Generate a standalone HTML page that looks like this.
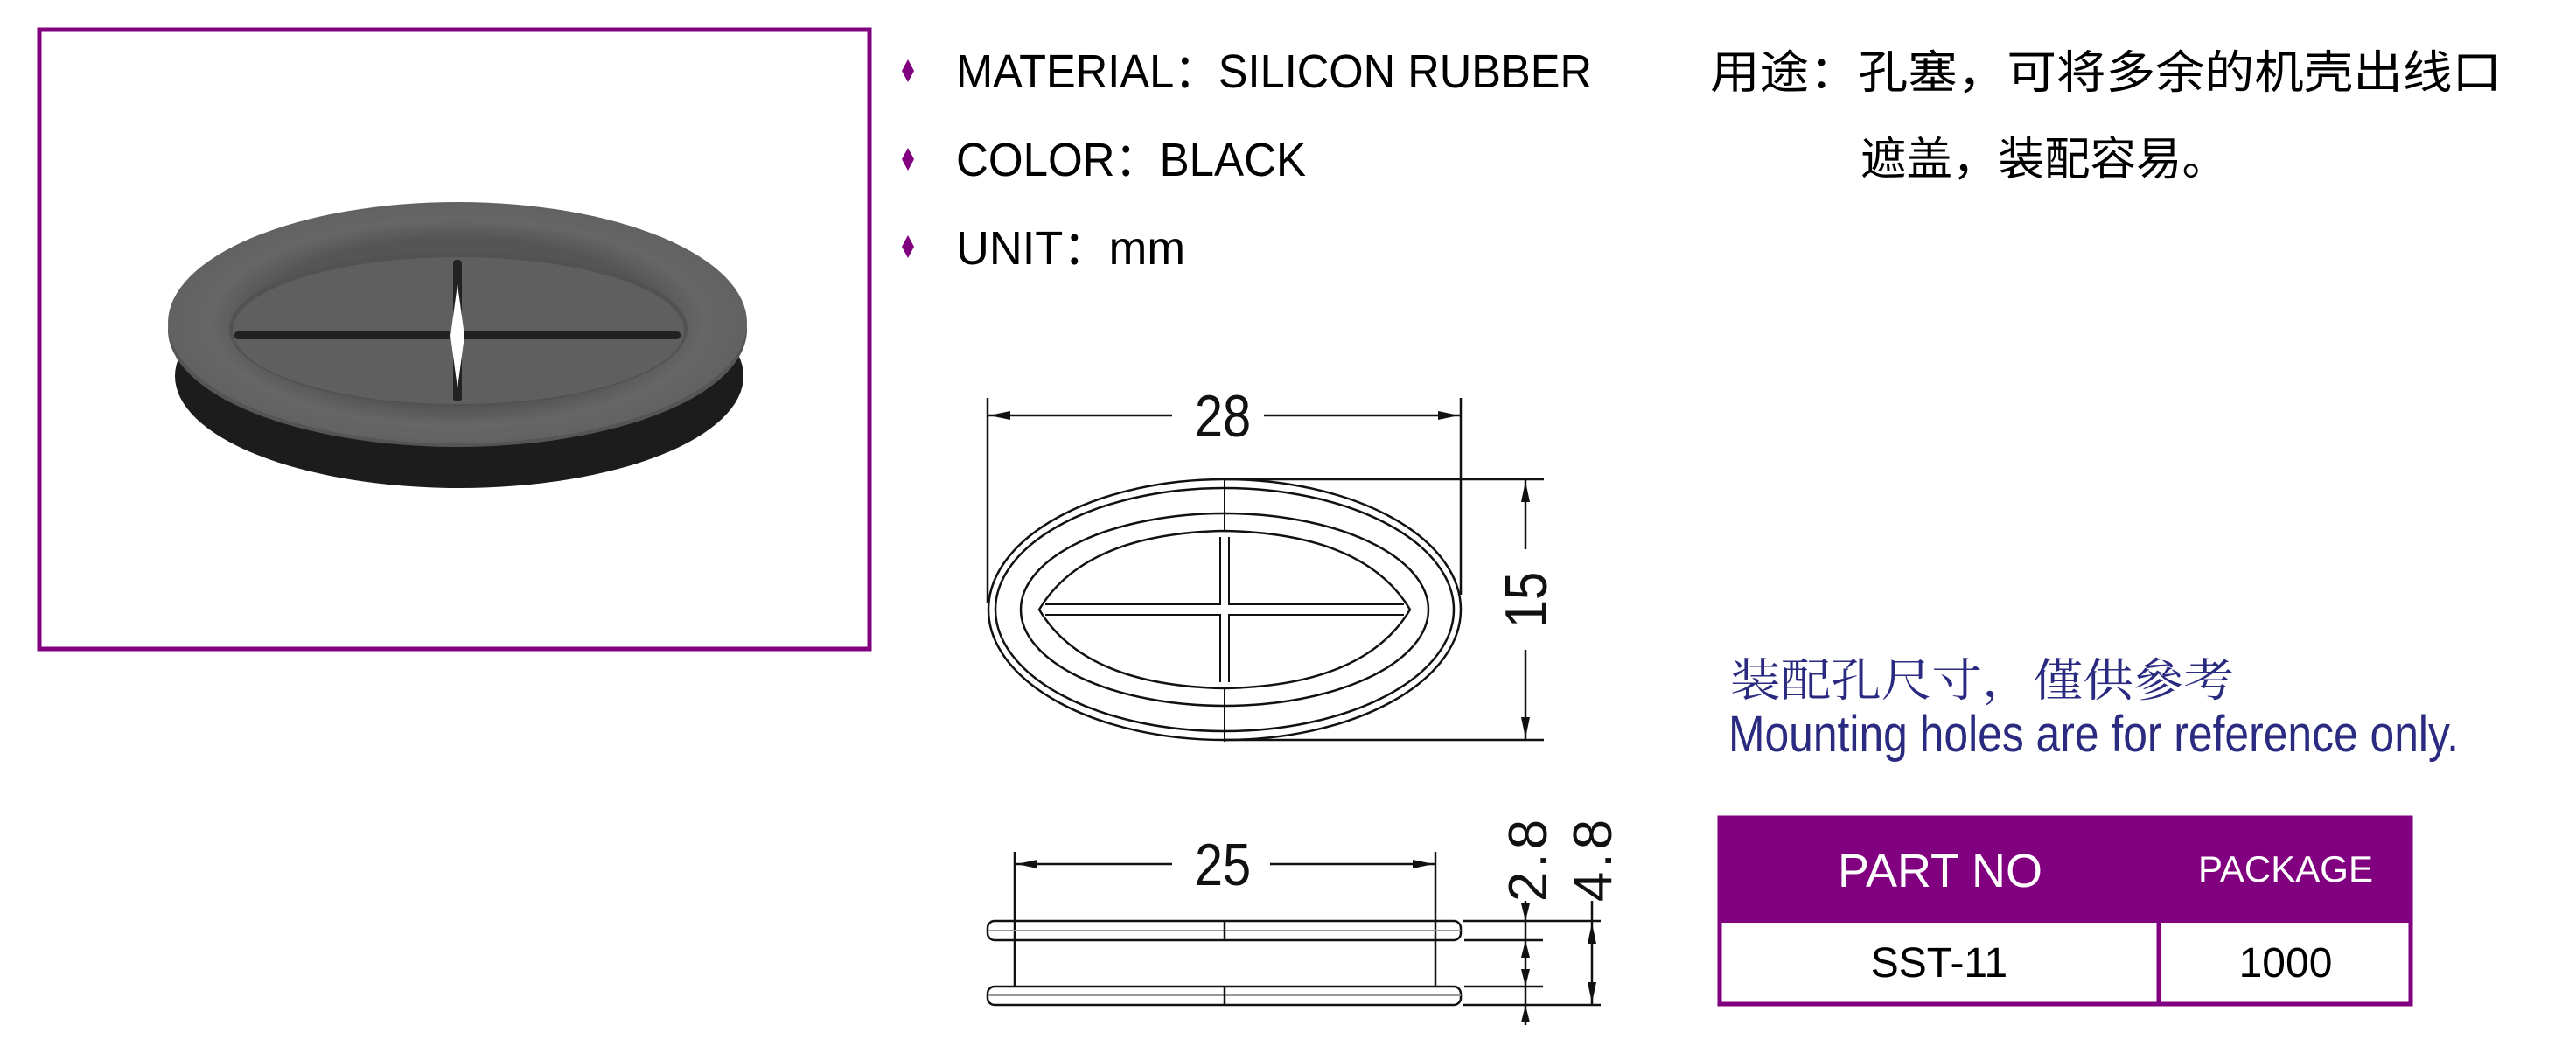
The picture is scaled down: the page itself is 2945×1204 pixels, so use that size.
<!DOCTYPE html>
<html><head><meta charset="utf-8"><style>
html,body{margin:0;padding:0;background:#fff;}
svg{display:block;}
</style></head><body>
<svg width="2945" height="1204" viewBox="0 0 2945 1204" xmlns="http://www.w3.org/2000/svg">
<defs>
<radialGradient id="g1" cx="0.5" cy="0.5" r="0.5">
<stop offset="0.7" stop-color="#555"/><stop offset="0.85" stop-color="#666"/><stop offset="1" stop-color="#626262"/>
</radialGradient>
</defs>
<!-- photo frame -->
<rect x="45" y="34" width="949" height="708" fill="#fff" stroke="#800080" stroke-width="5"/>
<!-- photo -->
<ellipse cx="525" cy="430" rx="325" ry="128" fill="#1c1c1c"/>
<ellipse cx="523" cy="377" rx="331" ry="134" fill="#555"/>
<ellipse cx="523" cy="369" rx="331" ry="138" fill="url(#g1)"/>
<ellipse cx="524" cy="376" rx="262" ry="88" fill="#525252"/>
<ellipse cx="524" cy="378" rx="258" ry="84" fill="#5f5f5f"/>
<rect x="268" y="379" width="250" height="9" rx="4" fill="#222"/>
<rect x="528" y="379" width="250" height="9" rx="4" fill="#222"/>
<rect x="518" y="297" width="10" height="162" rx="4" fill="#222"/>
<path d="M523 325 L531 384 L523 444 L515 384 Z" fill="#fff"/>
<!-- bullets -->
<g fill="#800080">
<path d="M1038 68 l7 13 l-7 13 l-7 -13z"/>
<path d="M1038 169 l7 13 l-7 13 l-7 -13z"/>
<path d="M1038 269 l7 13 l-7 13 l-7 -13z"/>
</g>
<g font-family="Liberation Sans, sans-serif" font-size="54" fill="#000">
<text x="1093" y="100" textLength="727" lengthAdjust="spacingAndGlyphs">MATERIAL：SILICON RUBBER</text>
<text x="1093" y="201" textLength="400" lengthAdjust="spacingAndGlyphs">COLOR：BLACK</text>
<text x="1093" y="302" textLength="262" lengthAdjust="spacingAndGlyphs">UNIT：mm</text>
</g>
<g font-family="Liberation Sans, Noto Sans CJK SC, sans-serif" font-size="52" fill="#000">
<text x="1955" y="101" textLength="905" lengthAdjust="spacingAndGlyphs">用途：孔塞，可将多余的机壳出线口</text>
<text x="2127" y="200" textLength="420" lengthAdjust="spacingAndGlyphs">遮盖，装配容易。</text>
</g>
<!-- top view drawing -->
<g fill="none" stroke="#111" stroke-width="2.5">
<line x1="1129" y1="455" x2="1129" y2="690"/>
<line x1="1670" y1="455" x2="1670" y2="680"/>
<line x1="1129" y1="475" x2="1340" y2="475"/>
<line x1="1445" y1="475" x2="1670" y2="475"/>
<line x1="1400" y1="548" x2="1765" y2="548"/>
<line x1="1400" y1="846" x2="1765" y2="846"/>
<line x1="1744" y1="548" x2="1744" y2="628"/>
<line x1="1744" y1="743" x2="1744" y2="846"/>
<ellipse cx="1400" cy="697" rx="270" ry="149"/>
<ellipse cx="1400" cy="697" rx="262" ry="139"/>
<ellipse cx="1400" cy="697" rx="233" ry="110"/>
<path d="M1188 697 Q1240 610 1400 607 Q1560 610 1612 697 Q1560 784 1400 787 Q1240 784 1188 697 Z"/>
<path d="M1195 691 H1395 V614 M1405 614 V691 H1605 M1605 703 H1405 V780 M1395 780 V703 H1195" stroke-width="2"/>
<line x1="1400" y1="546" x2="1400" y2="607" stroke-width="2"/>
<line x1="1400" y1="787" x2="1400" y2="848" stroke-width="2"/>
</g>
<g fill="#111">
<path d="M1131 475 l24 -5 v10z"/>
<path d="M1668 475 l-24 -5 v10z"/>
<path d="M1744 550 l-5 24 h10z"/>
<path d="M1744 844 l-5 -24 h10z"/>
</g>
<g font-family="Liberation Sans, sans-serif" font-size="68" fill="#111">
<text transform="translate(1398 499) scale(0.85 1)" text-anchor="middle">28</text>
<text transform="translate(1768 686) rotate(-90) scale(0.85 1)" text-anchor="middle">15</text>
<text transform="translate(1398 1012) scale(0.85 1)" text-anchor="middle">25</text>
<text transform="translate(1768 982) rotate(-90)" text-anchor="middle" font-size="62" letter-spacing="4">2.8</text>
<text transform="translate(1842 982) rotate(-90)" text-anchor="middle" font-size="62" letter-spacing="4">4.8</text>
</g>
<!-- side view -->
<g fill="none" stroke="#111" stroke-width="2.5">
<line x1="1160" y1="974" x2="1160" y2="1128"/>
<line x1="1641" y1="974" x2="1641" y2="1128"/>
<line x1="1160" y1="988" x2="1340" y2="988"/>
<line x1="1452" y1="988" x2="1641" y2="988"/>
<rect x="1129" y="1053" width="541" height="22" rx="8"/>
<rect x="1129" y="1128" width="541" height="21" rx="8"/>
<line x1="1129" y1="1064" x2="1670" y2="1064" stroke="#999" stroke-width="2"/>
<line x1="1129" y1="1138" x2="1670" y2="1138" stroke="#999" stroke-width="2"/>
<line x1="1400" y1="1053" x2="1400" y2="1075"/>
<line x1="1400" y1="1128" x2="1400" y2="1149"/>
<line x1="1672" y1="1053" x2="1830" y2="1053"/>
<line x1="1674" y1="1075" x2="1764" y2="1075"/>
<line x1="1674" y1="1128" x2="1764" y2="1128"/>
<line x1="1672" y1="1149" x2="1830" y2="1149"/>
<line x1="1744" y1="1030" x2="1744" y2="1172"/>
<line x1="1820" y1="1030" x2="1820" y2="1149"/>
</g>
<g fill="#111">
<path d="M1162 988 l24 -5 v10z"/>
<path d="M1639 988 l-24 -5 v10z"/>
<path d="M1744 1053 l-5 -20 h10z"/>
<path d="M1744 1075 l-5 20 h10z"/>
<path d="M1744 1128 l-5 -20 h10z"/>
<path d="M1744 1149 l-5 20 h10z"/>
<path d="M1820 1055 l-5 24 h10z"/>
<path d="M1820 1147 l-5 -24 h10z"/>
</g>
<!-- note -->
<text x="1978" y="796" font-family="Noto Serif CJK SC, serif" font-size="52" fill="#2a2a80" textLength="576" lengthAdjust="spacingAndGlyphs">装配孔尺寸，僅供參考</text>
<text x="1976" y="859" font-family="Liberation Sans, sans-serif" font-size="58" fill="#2a2a80" textLength="835" lengthAdjust="spacingAndGlyphs">Mounting holes are for reference only.</text>
<!-- table -->
<rect x="1966" y="935" width="790" height="120" fill="#800080"/>
<rect x="1966" y="935" width="790" height="213" fill="none" stroke="#800080" stroke-width="5"/>
<line x1="2468" y1="1055" x2="2468" y2="1148" stroke="#800080" stroke-width="5"/>
<g font-family="Liberation Sans, sans-serif" fill="#fff">
<text x="2218" y="1014" font-size="54" text-anchor="middle">PART NO</text>
<text x="2613" y="1008" font-size="42" text-anchor="middle">PACKAGE</text>
</g>
<g font-family="Liberation Sans, sans-serif" fill="#000" font-size="48">
<text x="2217" y="1117" text-anchor="middle">SST-11</text>
<text x="2613" y="1117" text-anchor="middle">1000</text>
</g>
</svg>
</body></html>
